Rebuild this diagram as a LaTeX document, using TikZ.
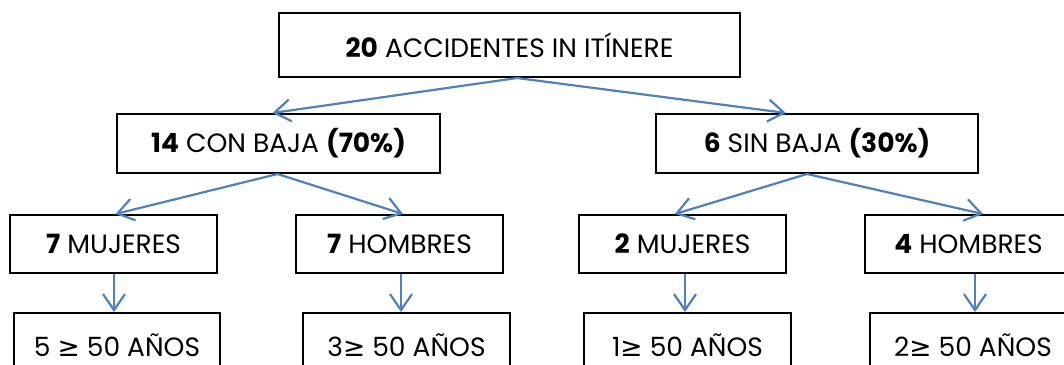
\documentclass[tikz,border=0pt]{standalone}
\usepackage{fontspec}
\setmainfont{Poppins}
\newfontfamily\symf{DejaVu Sans}
\usetikzlibrary{arrows.meta}
\definecolor{arrowblue}{HTML}{4F81BD}
\begin{document}
\begin{tikzpicture}[x=1pt,y=-1pt,
  box/.style={draw=black, line width=2pt, inner sep=0pt, fill=white,
    font=\fontsize{26.5}{30}\selectfont},
  arr/.style={draw=arrowblue, line width=2.2pt, -{Straight Barb[length=16pt,width=22pt,line width=2.2pt]}}]
\useasboundingbox (0,0) rectangle (1064,364);
\clip (0,0) rectangle (1064,364);
\fill[white] (0,0) rectangle (1064,364);

\node[box, minimum width=461pt, minimum height=64pt] (top) at (509.5,45) {\textbf{20} ACCIDENTES IN ITÍNERE};

\node[box, minimum width=323pt, minimum height=59pt] (con) at (278.5,143.5) {\textbf{14} CON BAJA \textbf{(70\%)}};
\node[box, minimum width=322pt, minimum height=59pt] (sin) at (817,143.5) {\textbf{6} SIN BAJA \textbf{(30\%)}};

\node[box, minimum width=207pt, minimum height=58pt] (m1) at (113.5,244) {\textbf{7} MUJERES};
\node[box, minimum width=207pt, minimum height=58pt] (h1) at (399.5,244) {\textbf{7} HOMBRES};
\node[box, minimum width=207pt, minimum height=58pt] (m2) at (682.5,244) {\textbf{2} MUJERES};
\node[box, minimum width=207pt, minimum height=58pt] (h2) at (968.5,244) {\textbf{4} HOMBRES};

\node[box, minimum width=206pt, minimum height=64pt] (a1) at (117,345) {5 {\symf ≥} 50 AÑOS};
\node[box, minimum width=207pt, minimum height=64pt] (a2) at (406.5,345) {3{\symf ≥} 50 AÑOS};
\node[box, minimum width=207pt, minimum height=64pt] (a3) at (687.5,345) {1{\symf ≥} 50 AÑOS};
\node[box, minimum width=206pt, minimum height=64pt] (a4) at (973,345) {2{\symf ≥} 50 AÑOS};

\draw[arr] ([xshift=7.5pt]top.south) -- ([xshift=-6pt]con.north);
\draw[arr] ([xshift=7.5pt]top.south) -- ([xshift=-31pt]sin.north);

\draw[arr] ([xshift=-1pt]con.south) -- ([xshift=2pt]m1.north);
\draw[arr] ([xshift=-1pt]con.south) -- ([xshift=3.5pt]h1.north);
\draw[arr] ([xshift=-10pt]sin.south) -- ([xshift=-7.5pt]m2.north);
\draw[arr] ([xshift=-10pt]sin.south) -- ([xshift=14.5pt]h2.north);

\draw[arr] ([xshift=0.5pt]m1.south) -- ([xshift=0.5pt]m1.south |- a1.north);
\draw[arr] ([xshift=1.5pt]h1.south) -- ([xshift=1.5pt]h1.south |- a2.north);
\draw[arr] ([xshift=2.5pt]m2.south) -- ([xshift=2.5pt]m2.south |- a3.north);
\draw[arr] ([xshift=6.5pt]h2.south) -- ([xshift=6.5pt]h2.south |- a4.north);
\end{tikzpicture}
\end{document}
